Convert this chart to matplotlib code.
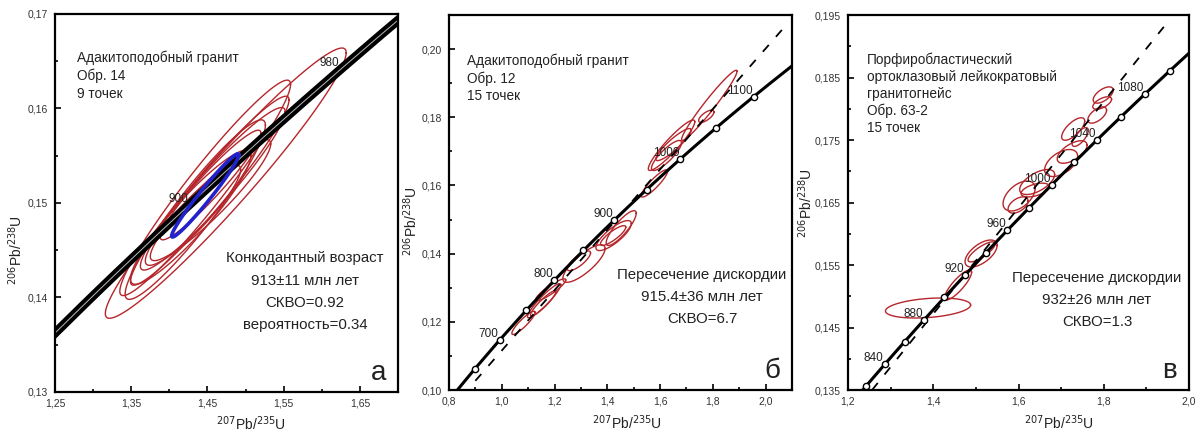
import numpy as np
import matplotlib
matplotlib.use("Agg")
import matplotlib.pyplot as plt
from matplotlib.ticker import MultipleLocator, FuncFormatter

plt.rcParams['font.family'] = ['Liberation Sans', 'DejaVu Sans']

# concordia (ages in Ma, 207Pb/235U, 206Pb/238U)
conc_age = [600, 650, 700, 750, 800, 820, 840, 850, 860, 880, 900, 920, 940, 950,
            960, 980, 1000, 1020, 1040, 1050, 1060, 1080, 1100, 1120, 1150, 1200]
conc_x = [0.8056, 0.8968, 0.9925, 1.0931, 1.1987, 1.2425, 1.2871, 1.3097, 1.3326,
          1.3790, 1.4263, 1.4746, 1.5238, 1.5488, 1.5740, 1.6252, 1.6774, 1.7307,
          1.7850, 1.8124, 1.8404, 1.8969, 1.9545, 2.0133, 2.1036, 2.2603]
conc_y = [0.09754, 0.10609, 0.11470, 0.12338, 0.13213, 0.13564, 0.13917, 0.14094,
          0.14271, 0.14626, 0.14982, 0.15339, 0.15698, 0.15877, 0.16057, 0.16418,
          0.16780, 0.17143, 0.17507, 0.17689, 0.17872, 0.18238, 0.18605, 0.18974,
          0.19529, 0.20460]

# panel a: sample 14
a_x = [1.474, 1.447, 1.453, 1.457, 1.434, 1.454, 1.428, 1.454, 1.431]
a_sx = [0.158, 0.112, 0.104, 0.095, 0.092, 0.079, 0.079, 0.066, 0.0625]
a_y = [0.1521, 0.1516, 0.1513, 0.1515, 0.1493, 0.1503, 0.1485, 0.1519, 0.1487]
a_sy = [0.0143, 0.0114, 0.0100, 0.0086, 0.0095, 0.0064, 0.0071, 0.0058, 0.0053]
a_rho = [0.965, 0.96, 0.96, 0.95, 0.94, 0.93, 0.92, 0.95, 0.91]
a_mean = [1.447, 0.044, 0.1508, 0.0044, 0.975]
a_labels = [900, 980]

# panel b: sample 12
b_x = [1.0824, 1.1607, 1.1569, 1.1855, 1.3115, 1.2924, 1.4527, 1.424, 1.422,
       1.5786, 1.6435, 1.651, 1.6244, 1.7866, 1.7752]
b_sx = [0.044, 0.063, 0.048, 0.057, 0.080, 0.044, 0.057, 0.067, 0.048,
        0.050, 0.088, 0.067, 0.057, 0.105, 0.029]
b_y = [0.1197, 0.1262, 0.1254, 0.1294, 0.1371, 0.1379, 0.1475, 0.1453, 0.1453,
       0.1606, 0.1718, 0.1720, 0.1688, 0.1835, 0.1803]
b_sy = [0.0034, 0.0050, 0.0037, 0.0032, 0.0055, 0.0029, 0.0051, 0.0044, 0.0029,
        0.0040, 0.0074, 0.0047, 0.0044, 0.0103, 0.0018]
b_rho = [0.90, 0.93, 0.92, 0.90, 0.80, 0.80, 0.85, 0.80, 0.85,
         0.90, 0.93, 0.90, 0.85, 0.97, 0.70]
b_marks = [650, 700, 750, 800, 850, 900, 950, 1000, 1050, 1100]
b_labels = [700, 800, 900, 1000, 1100]
b_disc_x = [0.90, 2.075]
b_disc_y = [0.1027, 0.2068]

# panel c: sample 63-2
c_x = [1.3878, 1.4582, 1.5122, 1.5134, 1.6014, 1.6390, 1.6437, 1.7000, 1.7258,
       1.7282, 1.7446, 1.7845, 1.7986, 1.7962, 1.5990]
c_sx = [0.0998, 0.0317, 0.0376, 0.0317, 0.0376, 0.0330, 0.0410, 0.0387, 0.0350,
        0.0270, 0.0190, 0.0220, 0.0235, 0.0220, 0.0235]
c_y = [0.14812, 0.1518, 0.15684, 0.1571, 0.16604, 0.1670, 0.16828, 0.17132, 0.17308,
       0.17676, 0.17548, 0.1790, 0.1822, 0.18092, 0.1646]
c_sy = [0.0016, 0.0024, 0.00216, 0.0016, 0.0024, 0.0011, 0.0020, 0.00216, 0.0018,
        0.0018, 0.0015, 0.0013, 0.0013, 0.0010, 0.0013]
c_rho = [0.30, 0.85, 0.60, 0.80, 0.50, 0.50, 0.60, 0.50, 0.60,
         0.70, 0.70, 0.60, 0.60, 0.60, 0.50]
c_marks = [820, 840, 860, 880, 900, 920, 940, 960, 980, 1000, 1020, 1040, 1060, 1080, 1100]
c_labels = [840, 880, 920, 960, 1000, 1040, 1080]
c_disc_x = [1.2566, 1.956]
c_disc_y = [0.1350, 0.1944]

RED = '#b5262b'
INK = '#222222'


def ellipse(x, sx, y, sy, rho, n=120):
    t = np.linspace(0, 2 * np.pi, n)
    cov = np.array([[sx * sx, rho * sx * sy], [rho * sx * sy, sy * sy]])
    L = np.linalg.cholesky(cov)
    p = L @ np.vstack([np.cos(t), np.sin(t)])
    return x + p[0], y + p[1]


def comma(dec):
    return FuncFormatter(lambda v, pos: f"{v:.{dec}f}".replace('.', ','))


def style(ax, xlim, ylim, xmaj, xmin, ymaj, ymin, xdec, ydec):
    ax.set_xlim(xlim)
    ax.set_ylim(ylim)
    ax.xaxis.set_major_locator(MultipleLocator(xmaj))
    ax.xaxis.set_minor_locator(MultipleLocator(xmin))
    ax.yaxis.set_major_locator(MultipleLocator(ymaj))
    ax.yaxis.set_minor_locator(MultipleLocator(ymin))
    ax.xaxis.set_major_formatter(comma(xdec))
    ax.yaxis.set_major_formatter(comma(ydec))
    ax.tick_params(which='both', direction='in', labelsize=7.5, labelcolor='#333333',
                   width=1.2)
    ax.tick_params(which='major', length=4, pad=5)
    ax.tick_params(which='minor', length=2.5)
    for s in ax.spines.values():
        s.set_linewidth(1.6)
    ax.set_xlabel(r'$^{207}$Pb/$^{235}$U', fontsize=10, color=INK)
    ax.set_ylabel(r'$^{206}$Pb/$^{238}$U', fontsize=10, color=INK)


def age_labels(ax, ages):
    for a in ages:
        i = conc_age.index(a)
        ax.annotate(str(a), (conc_x[i], conc_y[i]), xytext=(-1, 0),
                    textcoords='offset points', ha='right', va='bottom',
                    fontsize=8.5, color=INK)


fig = plt.figure(figsize=(11.96, 4.33), dpi=100)
ax1 = fig.add_axes([0.046, 0.0947, 0.2868, 0.873])
ax2 = fig.add_axes([0.3754, 0.0993, 0.2868, 0.866])
ax3 = fig.add_axes([0.709, 0.0993, 0.2852, 0.866])

# ---- panel a
for i in range(len(a_x)):
    ex, ey = ellipse(a_x[i], a_sx[i], a_y[i], a_sy[i], a_rho[i])
    ax1.plot(ex, ey, color=RED, lw=1.0)
ax1.plot(conc_x, conc_y, color='black', lw=6.5, solid_capstyle='butt')
ax1.plot(conc_x, conc_y, color='#bbbbbb', lw=0.7)
ex, ey = ellipse(*a_mean)
ax1.plot(ex, ey, color='#2222cc', lw=2.6)
age_labels(ax1, a_labels)
style(ax1, (1.25, 1.70), (0.13, 0.17), 0.1, 0.05, 0.01, 0.005, 2, 2)
ax1.xaxis.set_major_locator(MultipleLocator(0.1, offset=0.05))
ax1.text(0.064, 0.836, 'Адакитоподобный гранит\nОбр. 14\n9 точек', transform=ax1.transAxes,
         fontsize=9.8, va='center', ha='left', linespacing=1.35, color=INK)
ax1.text(0.729, 0.265, 'Конкодантный возраст\n913±11 млн лет\nСКВО=0.92\nвероятность=0.34',
         transform=ax1.transAxes, fontsize=10.8, ha='center', va='center',
         linespacing=1.75, color=INK)
ax1.text(0.965, 0.05, 'а', transform=ax1.transAxes, fontsize=20, ha='right',
         va='center', color=INK)
ax1.xaxis.set_label_coords(0.57, -0.058)
ax1.yaxis.set_label_coords(-0.087, 0.376)

# ---- panel б
for i in range(len(b_x)):
    ex, ey = ellipse(b_x[i], b_sx[i], b_y[i], b_sy[i], b_rho[i])
    ax2.plot(ex, ey, color=RED, lw=1.0)
ax2.plot(b_disc_x, b_disc_y, color='black', lw=1.3, ls=(0, (5, 6)))
ax2.plot(conc_x, conc_y, color='black', lw=2.2)
mi = [conc_age.index(a) for a in b_marks]
ax2.plot([conc_x[i] for i in mi], [conc_y[i] for i in mi], 'o', ms=4.5,
         mfc='white', mec='black', mew=1.0, ls='none')
age_labels(ax2, b_labels)
style(ax2, (0.8, 2.1), (0.10, 0.21), 0.2, 0.1, 0.02, 0.01, 1, 2)
ax2.text(0.052, 0.832, 'Адакитоподобный гранит\nОбр. 12\n15 точек', transform=ax2.transAxes,
         fontsize=9.8, va='center', ha='left', linespacing=1.3, color=INK)
ax2.text(0.738, 0.248, 'Пересечение дискордии\n915.4±36 млн лет\nСКВО=6.7',
         transform=ax2.transAxes, fontsize=10.8, ha='center', va='center',
         linespacing=1.75, color=INK)
ax2.text(0.965, 0.05, 'б', transform=ax2.transAxes, fontsize=20, ha='right',
         va='center', color=INK)
ax2.xaxis.set_label_coords(0.52, -0.062)
ax2.yaxis.set_label_coords(-0.085, 0.45)

# ---- panel в
for i in range(len(c_x)):
    ex, ey = ellipse(c_x[i], c_sx[i], c_y[i], c_sy[i], c_rho[i])
    ax3.plot(ex, ey, color=RED, lw=1.0)
ax3.plot(c_disc_x, c_disc_y, color='black', lw=1.3, ls=(0, (5, 6)))
ax3.plot(conc_x, conc_y, color='black', lw=2.2)
mi = [conc_age.index(a) for a in c_marks]
ax3.plot([conc_x[i] for i in mi], [conc_y[i] for i in mi], 'o', ms=4.5,
         mfc='white', mec='black', mew=1.0, ls='none')
age_labels(ax3, c_labels)
style(ax3, (1.2, 2.0), (0.135, 0.195), 0.2, 0.1, 0.01, 0.005, 1, 3)
ax3.yaxis.set_major_locator(MultipleLocator(0.01, offset=0.005))
ax3.text(0.055, 0.79, 'Порфиробластический\nортоклазовый лейкократовый\nгранитогнейс\nОбр. 63-2\n15 точек',
         transform=ax3.transAxes, fontsize=9.8, va='center', ha='left', linespacing=1.25,
         color=INK)
ax3.text(0.73, 0.24, 'Пересечение дискордии\n932±26 млн лет\nСКВО=1.3',
         transform=ax3.transAxes, fontsize=10.8, ha='center', va='center',
         linespacing=1.75, color=INK)
ax3.text(0.965, 0.05, 'в', transform=ax3.transAxes, fontsize=20, ha='right',
         va='center', color=INK)
ax3.xaxis.set_label_coords(0.62, -0.062)
ax3.yaxis.set_label_coords(-0.096, 0.5)

fig.savefig('out.png', dpi=100)
